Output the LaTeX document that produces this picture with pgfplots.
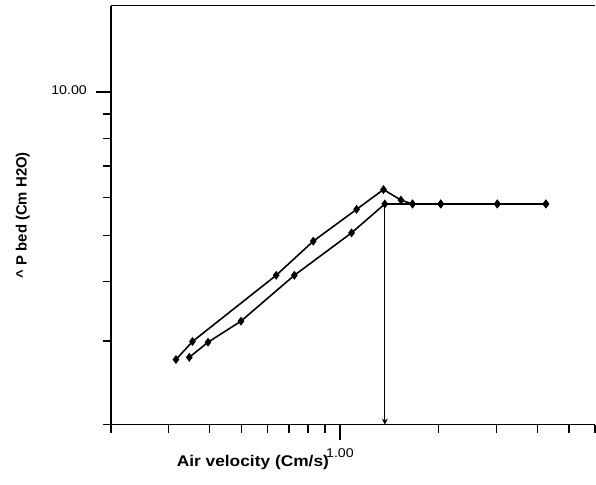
\documentclass[border=0pt]{standalone}
\usepackage{pgfplots}
\pgfplotsset{compat=1.18}
\usetikzlibrary{arrows.meta,calc}
\usepackage{fontspec}
\setmainfont{Liberation Sans}[FakeStretch=1.12]
\newfontfamily\ylabfont{Liberation Sans}
\begin{document}
\begin{tikzpicture}
\begin{axis}[
  scale only axis,
  width=485pt, height=419.6pt,
  xmode=log, ymode=log,
  xmin=0.2, xmax=6, ymin=2, ymax=15.2,
  axis x line*=box, axis y line*=left,
  x axis line style={-}, y axis line style={-},
  axis line style={line width=1.5pt, black},
  xtick pos=left, ytick pos=left,
  tick align=outside,
  major tick length=15pt, minor tick length=8pt,
  every tick/.style={black, line width=1.4pt},
  xtick={1}, xticklabels={1.00},
  minor xtick={0.2,0.3,0.4,0.5,0.6,0.7,0.8,0.9,2,3,4,5,6},
  ytick={10}, yticklabels={10.00},
  minor ytick={2,3,4,5,6,7,8,9},
  ticklabel style={font=\fontsize{12.7}{14}\selectfont},
  xticklabel shift=6pt,
  yticklabel shift=5.5pt,
  yticklabel style={yshift=2.5pt},
  xlabel={Air velocity (Cm/s)},
  ylabel={\ylabfont\textasciicircum{} P bed (Cm H2O)},
  xlabel style={font=\fontsize{15.5}{17}\selectfont\bfseries, at={(axis description cs:0.2934,0)}, anchor=base, yshift=-42pt},
  ylabel style={font=\fontsize{14.9}{17}\selectfont\bfseries, at={(axis description cs:-0.1738,0.5)}, anchor=base, rotate=0},
  clip=false,
]
\addplot[black, line width=1.6pt, mark=diamond*, mark size=3.2pt, mark options={solid}] coordinates {
 (0.316,2.74) (0.355,2.99) (0.639,4.12) (0.829,4.86) (1.124,5.67) (1.358,6.24)
 (1.535,5.93) (1.665,5.82) (2.03,5.82) (3.02,5.82) (4.25,5.82)};
\addplot[black, line width=1.6pt, mark=diamond*, mark size=3.2pt] coordinates {
 (0.347,2.77) (0.396,2.98) (0.499,3.30) (0.726,4.12) (1.085,5.06) (1.371,5.82)
 (1.665,5.82) (2.03,5.82) (3.02,5.82) (4.25,5.82)};
\addplot[black, line width=1.1pt, -{Stealth[length=6pt,width=6pt]}] coordinates {(1.371,5.82) (1.371,2)};
\path (rel axis cs:0,0) ++(-111pt,-59.7pt) rectangle ($(rel axis cs:1,1)+(1pt,5.7pt)$);
\end{axis}
\end{tikzpicture}
\end{document}
